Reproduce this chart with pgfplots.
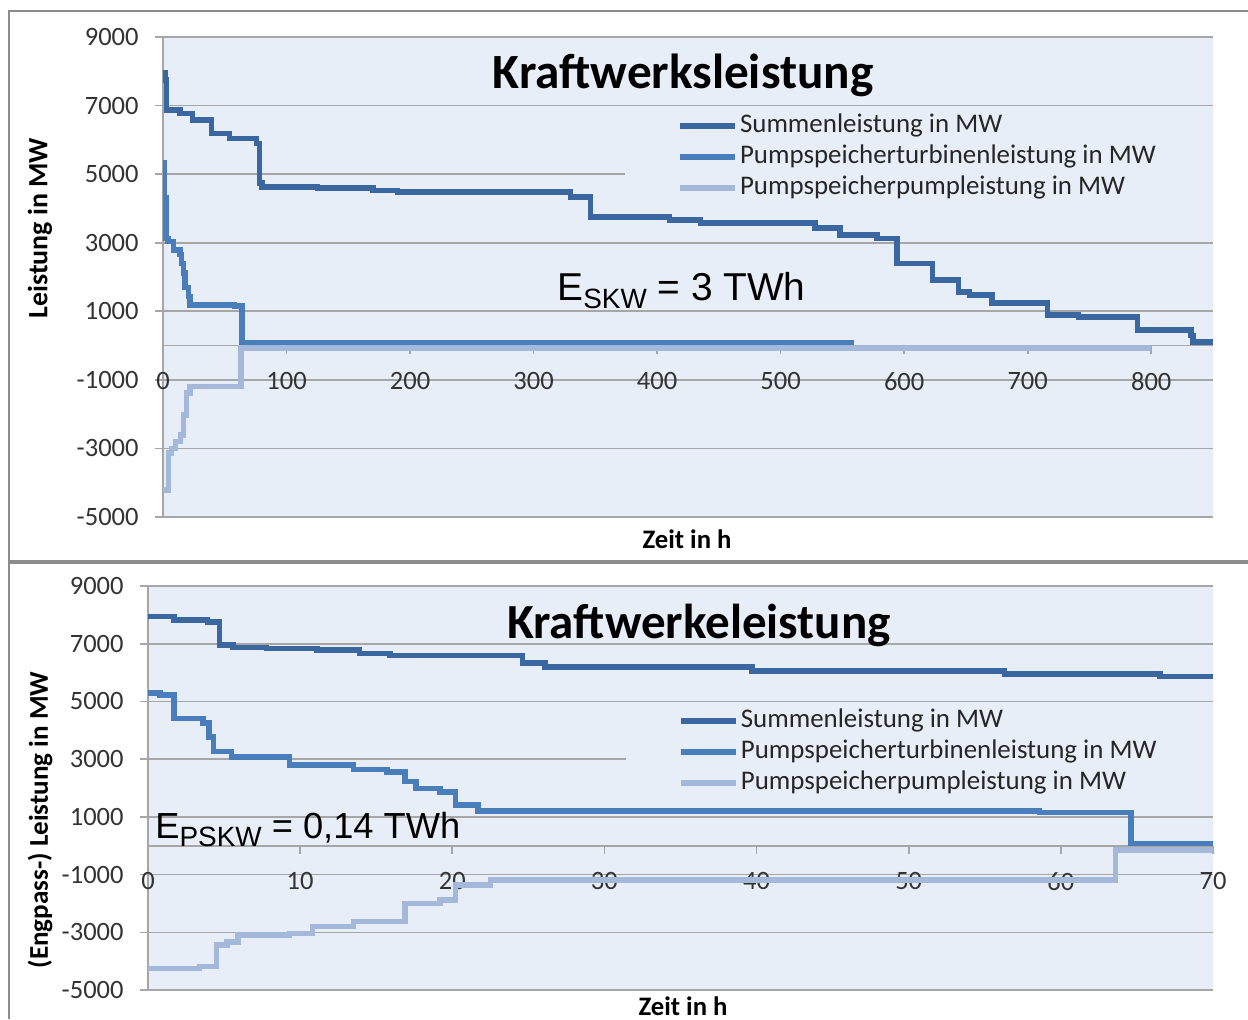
\documentclass[border=0pt]{standalone}
\usepackage{pgfplots}
\pgfplotsset{compat=1.18}
\usepackage{fontspec}
\setmainfont{Carlito}
\newfontfamily\arial{Liberation Sans}

\definecolor{bgc}{HTML}{E8EEF7}
\definecolor{sumc}{HTML}{3A679F}
\definecolor{turc}{HTML}{4A7EBB}
\definecolor{pumc}{HTML}{A4B8D9}
\definecolor{gridc}{HTML}{A6A6A6}
\definecolor{framec}{HTML}{8C8C8C}

\def\px{0.5bp}

\pgfplotsset{
  kw/.style={
    scale only axis,
    axis x line=middle, axis y line=left,
    axis line style={-, gridc, line width=0.8bp},
    every inner x axis line/.append style={-},
    every outer y axis line/.append style={-},
    ymin=-5000, ymax=9000, ytick={-5000,-3000,...,9000},
    ymajorgrids, grid style={gridc, line width=0.8bp},
    tick style={gridc, line width=0.8bp}, major tick length=4bp, tick align=outside,
    axis background/.style={fill=bgc},
    ticklabel style={font=\fontsize{13.3}{15}\selectfont, text=black!80},
    xticklabel style={yshift=-6bp},
    yticklabel style={xshift=-4.7bp},
    /pgf/number format/assume math mode=true,
    /pgf/number format/1000 sep={},
    hide obscured x ticks=false,
    legend cell align=left,
    legend style={draw=none, fill=none, inner sep=0pt, row sep=0pt,
      font=\fontsize{13.5}{15}\selectfont, text=black!85,
      nodes={inner sep=1.25bp, text height=10bp, text depth=3bp}},
    legend image code/.code={\draw[#1] (0bp,0bp) -- (27.5bp,0bp);},
    sum/.style={sumc, line width=2.75bp, const plot},
    tur/.style={turc, line width=2.75bp, const plot},
    pum/.style={pumc, line width=2.75bp, const plot},
  }
}

\begin{document}
\begin{tikzpicture}
\useasboundingbox (0,0) rectangle ({1248*\px},{-1019*\px});

% frame
\draw[framec, line width=0.9bp] ({9*\px},{-1019*\px}) -- ({9*\px},{-11*\px}) -- ({1248*\px},{-11*\px});
\draw[framec, line width=1.6bp] ({9*\px},{-562*\px}) -- ({1248*\px},{-562*\px});

% top chart
\begin{axis}[kw,
  at={({163*\px},{-517*\px})}, anchor=south west,
  width={1050*\px}, height={480*\px},
  xmin=0, xmax=850, xtick={0,100,...,800},
  legend style={at={(axis cs:415.8,6872)}, anchor=north west},
]
\fill[bgc] (axis cs:374,6870) rectangle (axis cs:850,4246);
\addplot[sum] coordinates {
  (0,7950) (1.5,7750) (3,6870) (13.8,6775) (24,6580) (39.4,6190) (54,6045)
  (75.8,5900) (78,4740) (80,4620) (125,4590) (170,4520) (190,4480)
  (330,4330) (346,3750) (410,3660) (435,3570) (528,3430) (548,3220)
  (578,3130) (594,2400) (623,1910) (644,1560) (653,1470) (671,1240)
  (716,890) (741,840) (789,450) (832,300) (834,110) (850,110)
};
\addplot[tur] coordinates {
  (0,5320) (0.8,4300) (2.5,3130) (4,3030) (8.4,2790) (13.8,2650) (15,2400)
  (16.5,2110) (18,1700) (20.5,1430) (21.9,1185) (58,1150) (64,70) (559,70)
};
\addplot[pum] coordinates {
  (0,-4210) (4.5,-3140) (7,-3000) (10,-2800) (14,-2610) (16.5,-2020)
  (19,-1390) (22,-1200) (63,-70) (800,-70)
};
\legend{Summenleistung in MW, Pumpspeicherturbinenleistung in MW, Pumpspeicherpumpleistung in MW}
\end{axis}

% bottom chart
\begin{axis}[kw,
  at={({148*\px},{-990*\px})}, anchor=south west,
  width={1065*\px}, height={404*\px},
  xmin=0, xmax=70, xtick={0,10,...,70},
  legend style={at={(axis cs:34.8,4882)}, anchor=north west},
]
\fill[bgc] (axis cs:31.4,4875) rectangle (axis cs:70,1583);
\addplot[sum] coordinates {
  (0,7940) (1.7,7820) (3.9,7760) (4.7,6950) (5.6,6870) (7.8,6840)
  (11.1,6780) (13.9,6670) (15.9,6600) (24.6,6330) (26.1,6190)
  (39.7,6060) (56.3,5950) (66.5,5860) (70,5860)
};
\addplot[tur] coordinates {
  (0,5300) (0.8,5220) (1.7,4410) (3.6,4250) (4,3770) (4.3,3260) (5.5,3080)
  (9.3,2800) (13.5,2650) (15.7,2560) (16.9,2220) (17.6,1990) (19.2,1870)
  (20.2,1410) (21.7,1200) (58.6,1160) (64.6,80) (70,80)
};
\addplot[pum] coordinates {
  (0,-4250) (3.4,-4180) (4.5,-3440) (5.2,-3330) (5.9,-3095) (9.3,-3040)
  (10.8,-2805) (13.5,-2630) (16.9,-2000) (19.2,-1880) (20.2,-1360)
  (22.5,-1190) (63.6,-150) (70,-150)
};
\legend{Summenleistung in MW, Pumpspeicherturbinenleistung in MW, Pumpspeicherpumpleistung in MW}
\end{axis}

% texts
\node[font=\bfseries\fontsize{24.7}{28}\selectfont] at ({683*\px},{-75*\px}) {Kraftwerksleistung};
\node[font=\bfseries\fontsize{24.6}{28}\selectfont] at ({699*\px},{-625*\px}) {Kraftwerkeleistung};
\node[rotate=90, font=\bfseries\fontsize{14}{16}\selectfont] at ({40*\px},{-228*\px}) {Leistung in MW};
\node[rotate=90, font=\bfseries\fontsize{13.6}{16}\selectfont] at ({40*\px},{-820*\px}) {(Engpass-) Leistung in MW};
\node[font=\bfseries\fontsize{13.4}{15}\selectfont] at ({687*\px},{-539*\px}) {Zeit in h};
\node[font=\bfseries\fontsize{13.4}{15}\selectfont] at ({683*\px},{-1006*\px}) {Zeit in h};
\node[font=\arial\fontsize{19.5}{23}\selectfont, anchor=base west, inner sep=0pt]
  at ({557*\px},{-300*\px}) {E\raisebox{-4bp}{\fontsize{14}{15}\selectfont SKW} = 3 TWh};
\node[font=\arial\fontsize{18.2}{21}\selectfont, anchor=base west, inner sep=0pt]
  at ({155*\px},{-838*\px}) {E\raisebox{-4bp}{\fontsize{14}{15}\selectfont PSKW} = 0,14 TWh};
\end{tikzpicture}
\end{document}
